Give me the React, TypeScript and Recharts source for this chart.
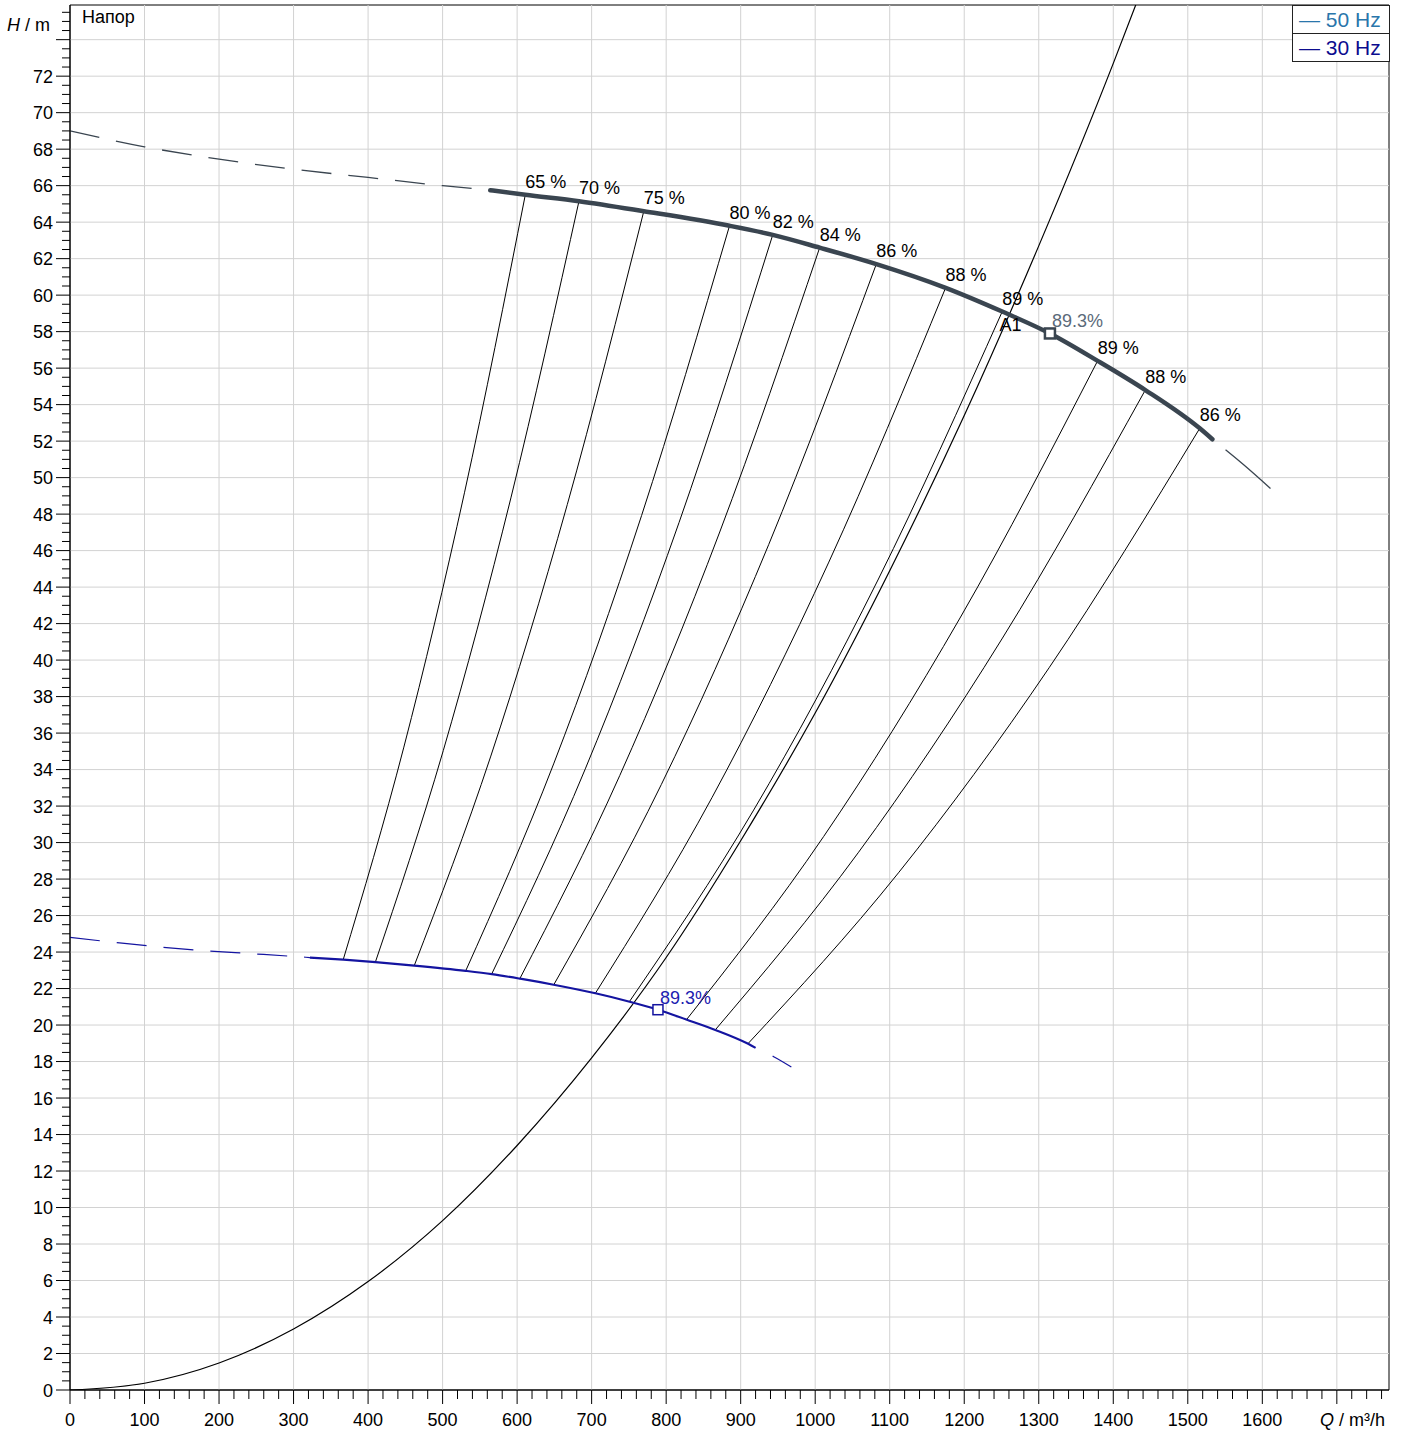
import React from "react";
import {ComposedChart, Line, Scatter, XAxis, YAxis, ReferenceLine, ReferenceArea} from "recharts";

type Pt = {q: number; h: number};

// pump curve 50 Hz (dashed / operating range / dashed)
const pump50Pre: Pt[] = [
  {q: 0, h: 69.0}, {q: 100, h: 68.13}, {q: 200, h: 67.45}, {q: 300, h: 66.9},
  {q: 400, h: 66.45}, {q: 500, h: 66.0}, {q: 564, h: 65.75},
];
const pump50: Pt[] = [
  {q: 564, h: 65.75}, {q: 611, h: 65.5}, {q: 683, h: 65.15}, {q: 770, h: 64.6},
  {q: 885, h: 63.8}, {q: 943, h: 63.3}, {q: 1006, h: 62.6}, {q: 1082, h: 61.7},
  {q: 1175, h: 60.4}, {q: 1251, h: 59.1}, {q: 1315, h: 57.9}, {q: 1379, h: 56.4},
  {q: 1443, h: 54.8}, {q: 1516, h: 52.7}, {q: 1533, h: 52.1},
];
const pump50Post: Pt[] = [{q: 1533, h: 52.1}, {q: 1575, h: 50.7}, {q: 1611, h: 49.4}];

// pump curve 30 Hz
const pump30Pre: Pt[] = [
  {q: 0, h: 24.8}, {q: 60, h: 24.53}, {q: 120, h: 24.28}, {q: 180, h: 24.08},
  {q: 240, h: 23.92}, {q: 300, h: 23.76}, {q: 322, h: 23.7},
];
const pump30: Pt[] = [
  {q: 322, h: 23.7}, {q: 367, h: 23.58}, {q: 410, h: 23.45}, {q: 462, h: 23.26},
  {q: 531, h: 22.97}, {q: 566, h: 22.79}, {q: 604, h: 22.54}, {q: 649, h: 22.21},
  {q: 705, h: 21.74}, {q: 751, h: 21.28}, {q: 789, h: 20.84}, {q: 827, h: 20.3},
  {q: 866, h: 19.73}, {q: 910, h: 18.97}, {q: 920, h: 18.75},
];
const pump30Post: Pt[] = [{q: 920, h: 18.75}, {q: 945, h: 18.25}, {q: 968, h: 17.7}];

// system curve
const systemCurve: Pt[] = [
  {q: 0, h: 0}, {q: 100, h: 0.37}, {q: 200, h: 1.48}, {q: 300, h: 3.34}, {q: 400, h: 5.94},
  {q: 500, h: 9.28}, {q: 600, h: 13.4}, {q: 700, h: 18.2}, {q: 800, h: 23.7}, {q: 900, h: 30.1},
  {q: 1000, h: 37.1}, {q: 1100, h: 44.9}, {q: 1200, h: 53.4}, {q: 1300, h: 62.7},
  {q: 1400, h: 72.7}, {q: 1432, h: 76.1},
];

// iso-efficiency lines (30 Hz -> 50 Hz)
const iso65: Pt[] = [{q: 366.6, h: 23.58}, {q: 448, h: 35.23}, {q: 529.5, h: 49.2}, {q: 611, h: 65.5}];
const iso70: Pt[] = [{q: 409.8, h: 23.45}, {q: 500.9, h: 35.04}, {q: 591.9, h: 48.93}, {q: 683, h: 65.15}];
const iso75: Pt[] = [{q: 462, h: 23.26}, {q: 564.7, h: 34.74}, {q: 667.3, h: 48.52}, {q: 770, h: 64.6}];
const iso80: Pt[] = [{q: 531, h: 22.97}, {q: 649, h: 34.31}, {q: 767, h: 47.92}, {q: 885, h: 63.8}];
const iso82: Pt[] = [{q: 565.8, h: 22.79}, {q: 691.5, h: 34.04}, {q: 817.3, h: 47.54}, {q: 943, h: 63.3}];
const iso84: Pt[] = [{q: 603.6, h: 22.54}, {q: 737.7, h: 33.67}, {q: 871.9, h: 47.02}, {q: 1006, h: 62.6}];
const iso86: Pt[] = [{q: 649.2, h: 22.21}, {q: 793.5, h: 33.18}, {q: 937.7, h: 46.34}, {q: 1082, h: 61.7}];
const iso88: Pt[] = [{q: 705, h: 21.74}, {q: 861.7, h: 32.48}, {q: 1018.3, h: 45.37}, {q: 1175, h: 60.4}];
const iso89a: Pt[] = [{q: 750.6, h: 21.28}, {q: 917.4, h: 31.78}, {q: 1084.2, h: 44.39}, {q: 1251, h: 59.1}];
const iso89b: Pt[] = [{q: 827.4, h: 20.3}, {q: 1011.3, h: 30.33}, {q: 1195.1, h: 42.36}, {q: 1379, h: 56.4}];
const iso88b: Pt[] = [{q: 865.8, h: 19.73}, {q: 1058.2, h: 29.47}, {q: 1250.6, h: 41.16}, {q: 1443, h: 54.8}];
const iso86b: Pt[] = [{q: 909.6, h: 18.97}, {q: 1111.7, h: 28.34}, {q: 1313.9, h: 39.58}, {q: 1516, h: 52.7}];
const isoLines = [iso65, iso70, iso75, iso80, iso82, iso84, iso86, iso88, iso89a, iso89b, iso88b, iso86b];
const isoLabels = ["65 %", "70 %", "75 %", "80 %", "82 %", "84 %", "86 %", "88 %", "89 %", "89 %", "88 %", "86 %"];
const isoTops = isoLines.map((l, i) => ({...l[l.length - 1], label: isoLabels[i]}));

const bep50: Pt[] = [{q: 1315, h: 57.9}];
const bep30: Pt[] = [{q: 789, h: 20.84}];
const bepLabel = "89.3%";
const sysLabel = [{q: 1254, h: 58.4, label: "A1"}];

// axes
const xMajor = [0, 100, 200, 300, 400, 500, 600, 700, 800, 900, 1000, 1100, 1200, 1300, 1400, 1500, 1600, 1700];
const xLabelMax = 1600;
const yMajor = [0, 2, 4, 6, 8, 10, 12, 14, 16, 18, 20, 22, 24, 26, 28, 30, 32, 34, 36, 38, 40, 42, 44, 46, 48, 50,
  52, 54, 56, 58, 60, 62, 64, 66, 68, 70, 72, 74];
const yLabelMax = 72;
const xTicks = Array.from({length: 89}, (_, i) => i * 20);
const yTicks = Array.from({length: 152}, (_, i) => i * 0.5);

const FONT = "'Liberation Sans', Arial, sans-serif";
const C50 = "#3a4550";
const C30 = "#1414a0";

const XTick = ({x, y, payload}: any) => {
  const v = payload.value;
  const major = v % 100 === 0;
  return (
      <g>
        <line x1={x} y1={y} x2={x} y2={y + (major ? 14 : 9)} stroke="#000"/>
        {major && v <= xLabelMax &&
            <text x={x} y={y + 36} textAnchor="middle" fontSize={18} fill="#000">{v}</text>}
      </g>
  );
};

const YTick = ({x, y, payload}: any) => {
  const v = payload.value;
  const major = v % 2 === 0;
  return (
      <g>
        <line x1={x - (major ? 14 : 8)} y1={y} x2={x} y2={y} stroke="#000"/>
        {major && v <= yLabelMax &&
            <text x={x - 17} y={y + 6.5} textAnchor="end" fontSize={18} fill="#000">{v}</text>}
      </g>
  );
};

const App = () => {
  return (
      <div style={{position: "absolute", left: 0, top: 0, width: 1400, height: 1430, fontFamily: FONT, background: "#fff"}}>
        <ComposedChart width={1400} height={1430} margin={{top: 5, right: 11, bottom: 0, left: 0}}>
          <XAxis type="number" dataKey="q" domain={[0, 1770]} allowDataOverflow ticks={xTicks} interval={0}
                 height={40} tickLine={false} tickSize={0} tickMargin={0} axisLine={{stroke: "#000"}}
                 tick={(p: any) => <XTick {...p}/>}/>
          <YAxis type="number" dataKey="h" domain={[0, 75.9]} allowDataOverflow ticks={yTicks} interval={0}
                 width={70} tickLine={false} tickSize={0} tickMargin={0} axisLine={{stroke: "#000"}}
                 tick={(p: any) => <YTick {...p}/>}/>
          {xMajor.slice(1).map(v => <ReferenceLine key={"gx" + v} x={v} stroke="#d2d2d2" strokeWidth={1}/>)}
          {yMajor.slice(1).map(v => <ReferenceLine key={"gy" + v} y={v} stroke="#d2d2d2" strokeWidth={1}/>)}
          <ReferenceArea x1={0} x2={1770} y1={0} y2={75.9} fill="none" stroke="#000" strokeWidth={1}/>

          {isoLines.map((d, i) => (
              <Line key={"iso" + i} data={d} dataKey="h" type="monotone" stroke="#000" strokeWidth={1}
                    dot={false} activeDot={false} isAnimationActive={false}/>
          ))}
          <Line data={systemCurve} dataKey="h" type="monotone" stroke="#000" strokeWidth={1.2}
                dot={false} activeDot={false} isAnimationActive={false}/>

          <Line data={pump30Pre} dataKey="h" type="monotone" stroke={C30} strokeWidth={1.2} strokeDasharray="30 17"
                dot={false} activeDot={false} isAnimationActive={false}/>
          <Line data={pump30} dataKey="h" type="monotone" stroke={C30} strokeWidth={2.2}
                dot={false} activeDot={false} isAnimationActive={false}/>
          <Line data={pump30Post} dataKey="h" type="monotone" stroke={C30} strokeWidth={1.2} strokeDasharray="0 19 40 10"
                dot={false} activeDot={false} isAnimationActive={false}/>

          <Line data={pump50Pre} dataKey="h" type="monotone" stroke={C50} strokeWidth={1.3} strokeDasharray="30 17"
                dot={false} activeDot={false} isAnimationActive={false}/>
          <Line data={pump50} dataKey="h" type="monotone" stroke={C50} strokeWidth={4.5} strokeLinecap="round"
                dot={false} activeDot={false} isAnimationActive={false}/>
          <Line data={pump50Post} dataKey="h" type="monotone" stroke={C50} strokeWidth={1.3} strokeDasharray="0 17 80 10"
                dot={false} activeDot={false} isAnimationActive={false}/>

          <Scatter data={isoTops} dataKey="h" isAnimationActive={false}
                   shape={(p: any) => <text x={p.cx} y={p.cy - 7} fontSize={18} fill="#000">{p.payload.label}</text>}/>
          <Scatter data={sysLabel} dataKey="h" isAnimationActive={false}
                   shape={(p: any) => <text x={p.cx - 5} y={p.cy + 7} fontSize={18} fill="#000">{p.payload.label}</text>}/>
          <Scatter data={bep50} dataKey="h" isAnimationActive={false}
                   shape={(p: any) => (
                       <g>
                         <rect x={p.cx - 5} y={p.cy - 5} width={10} height={10} fill="#fff" stroke={C50} strokeWidth={2.5}/>
                         <text x={p.cx + 2} y={p.cy - 6} fontSize={18} fill="#5b6a7a">{bepLabel}</text>
                       </g>
                   )}/>
          <Scatter data={bep30} dataKey="h" isAnimationActive={false}
                   shape={(p: any) => (
                       <g>
                         <rect x={p.cx - 5} y={p.cy - 5} width={10} height={10} fill="#fff" stroke={C30} strokeWidth={1.5}/>
                         <text x={p.cx + 2} y={p.cy - 6} fontSize={18} fill="#2020b0">{bepLabel}</text>
                       </g>
                   )}/>
        </ComposedChart>

        <div style={{position: "absolute", left: 82, top: 7, fontSize: 18, lineHeight: "20px", color: "#000"}}>Напор</div>
        <div style={{position: "absolute", left: 7, top: 15, fontSize: 18, lineHeight: "20px", color: "#000"}}>
          <i>H</i> / m
        </div>
        <div style={{position: "absolute", left: 1320, top: 1410, fontSize: 18, lineHeight: "20px", color: "#000"}}>
          <i>Q</i> / m³/h
        </div>
        <div style={{position: "absolute", left: 1292, top: 5, width: 96, border: "1px solid #222", background: "#fff",
          fontSize: 21, lineHeight: "27px", whiteSpace: "nowrap"}}>
          <div style={{paddingLeft: 6, color: "#2a76ab", borderBottom: "1px solid #222"}}>— 50 Hz</div>
          <div style={{paddingLeft: 6, color: "#0c0c8e"}}>— 30 Hz</div>
        </div>
      </div>
  );
};

export default App;
